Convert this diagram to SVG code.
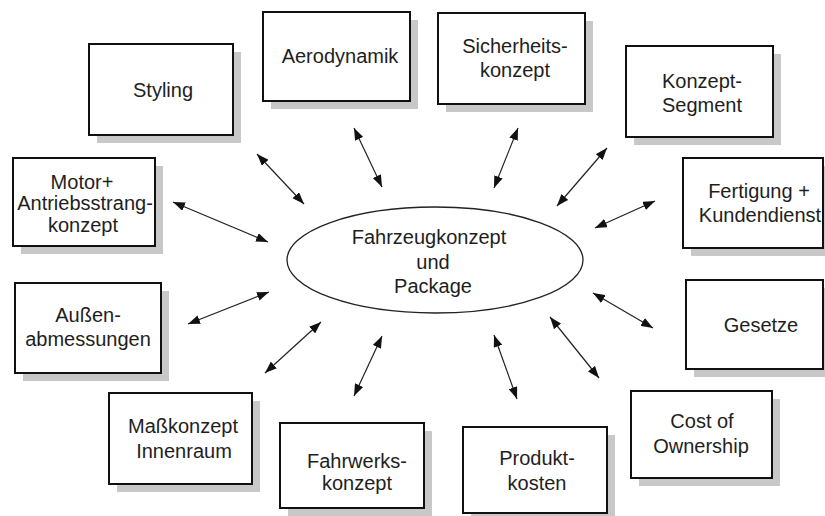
<svg xmlns="http://www.w3.org/2000/svg" width="825" height="516" viewBox="0 0 825 516">
<defs>
<style>
.box{fill:#fff;stroke:#111;stroke-width:2}
.sh{fill:#c8c8c8}
.t{font-family:"Liberation Sans",Arial,Helvetica,sans-serif;font-size:20px;fill:#1e1e1e;text-anchor:middle}
.c{stroke:#222;stroke-width:1.2;fill:none;marker-start:url(#ah);marker-end:url(#ah)}
.el{fill:#fff;stroke:#222;stroke-width:1.3}
</style>
<marker id="ah" viewBox="0 0 12 9" refX="12" refY="4.5" markerWidth="12" markerHeight="9" markerUnits="userSpaceOnUse" orient="auto-start-reverse">
<path d="M0,0 L12,4.5 L0,9 z" fill="#111"/>
</marker>
</defs>
<rect width="825" height="516" fill="#fff"/>

<g id="styling">
<rect class="sh" x="97" y="52" width="144" height="91"/>
<rect class="box" x="89" y="44" width="144" height="91"/>
<text class="t" x="163" y="97">Styling</text>
</g>
<g id="aerodynamik">
<rect class="sh" x="271" y="20" width="147" height="89"/>
<rect class="box" x="263" y="12" width="147" height="89"/>
<text class="t" x="340" y="63">Aerodynamik</text>
</g>
<g id="sicherheitskonzept">
<rect class="sh" x="446" y="21" width="147" height="91"/>
<rect class="box" x="438" y="13" width="147" height="91"/>
<text class="t" x="515" y="53">Sicherheits-</text>
<text class="t" x="515" y="77">konzept</text>
</g>
<g id="konzeptsegment">
<rect class="sh" x="634" y="54" width="147" height="91"/>
<rect class="box" x="626" y="46" width="147" height="91"/>
<text class="t" x="702" y="88">Konzept-</text>
<text class="t" x="702" y="112">Segment</text>
</g>
<g id="fertigung">
<rect class="sh" x="691" y="166" width="140" height="90"/>
<rect class="box" x="683" y="158" width="140" height="90"/>
<text class="t" x="759" y="198">Fertigung +</text>
<text class="t" x="760" y="222">Kundendienst</text>
</g>
<g id="gesetze">
<rect class="sh" x="694" y="288" width="137" height="89"/>
<rect class="box" x="686" y="280" width="137" height="89"/>
<text class="t" x="761" y="332">Gesetze</text>
</g>
<g id="costofownership">
<rect class="sh" x="639" y="399" width="141" height="87"/>
<rect class="box" x="631" y="391" width="141" height="87"/>
<text class="t" x="702" y="428">Cost of</text>
<text class="t" x="701" y="453">Ownership</text>
</g>
<g id="produktkosten">
<rect class="sh" x="471" y="435" width="144" height="86"/>
<rect class="box" x="463" y="427" width="144" height="86"/>
<text class="t" x="537" y="465">Produkt-</text>
<text class="t" x="537" y="490">kosten</text>
</g>
<g id="fahrwerkskonzept">
<rect class="sh" x="288" y="431" width="144" height="85"/>
<rect class="box" x="280" y="423" width="144" height="85"/>
<text class="t" x="357" y="468">Fahrwerks-</text>
<text class="t" x="357" y="490">konzept</text>
</g>
<g id="masskonzept">
<rect class="sh" x="117" y="401" width="143" height="91"/>
<rect class="box" x="109" y="393" width="143" height="91"/>
<text class="t" x="183" y="433">Maßkonzept</text>
<text class="t" x="184" y="458">Innenraum</text>
</g>
<g id="aussenabmessungen">
<rect class="sh" x="23" y="291" width="146" height="90"/>
<rect class="box" x="15" y="283" width="146" height="90"/>
<text class="t" x="88" y="322">Außen-</text>
<text class="t" x="88" y="346">abmessungen</text>
</g>
<g id="motor">
<rect class="sh" x="21" y="166" width="142" height="88"/>
<rect class="box" x="13" y="158" width="142" height="88"/>
<text class="t" x="82" y="189">Motor+</text>
<text class="t" x="85" y="210">Antriebsstrang-</text>
<text class="t" x="83" y="232">konzept</text>
</g>
<g id="fahrzeugkonzept">
<ellipse class="el" cx="435" cy="260" rx="148" ry="53"/>
<text class="t" x="429" y="244">Fahrzeugkonzept</text>
<text class="t" x="433" y="269">und</text>
<text class="t" x="433" y="293">Package</text>
</g>

<g id="connectors">
<line class="c" x1="257" y1="154" x2="304" y2="204"/>
<line class="c" x1="354" y1="128" x2="382" y2="187"/>
<line class="c" x1="518" y1="128" x2="494" y2="188"/>
<line class="c" x1="607" y1="148" x2="557" y2="206"/>
<line class="c" x1="655" y1="201" x2="595" y2="228"/>
<line class="c" x1="593" y1="293" x2="653" y2="328"/>
<line class="c" x1="550" y1="317" x2="599" y2="378"/>
<line class="c" x1="494" y1="335" x2="517" y2="399"/>
<line class="c" x1="382" y1="336" x2="354" y2="396"/>
<line class="c" x1="321" y1="322" x2="265" y2="373"/>
<line class="c" x1="269" y1="292" x2="188" y2="324"/>
<line class="c" x1="173" y1="202" x2="268" y2="242"/>
</g>
</svg>
